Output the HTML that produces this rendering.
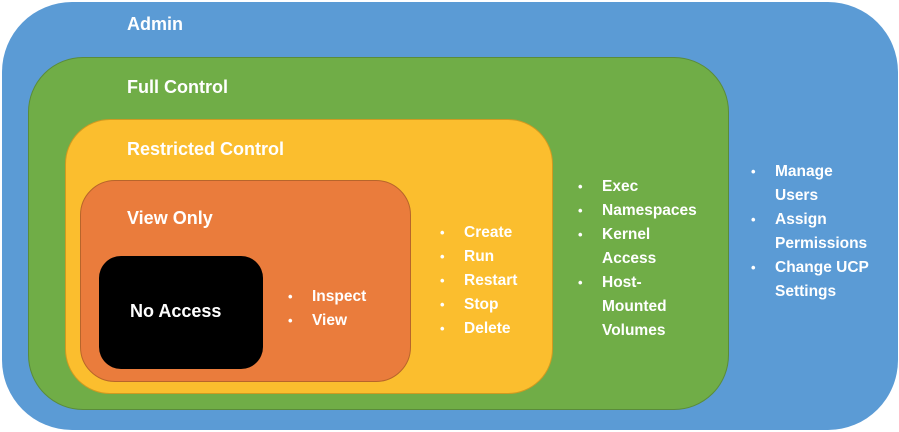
<!DOCTYPE html>
<html><head><style>
body{margin:0;width:899px;height:432px;background:#fff;position:relative;overflow:hidden;font-family:"Liberation Sans",sans-serif;font-weight:bold;color:#fff}
.b{position:absolute;box-sizing:border-box}
.t{position:absolute;font-size:18px;white-space:nowrap;line-height:20px}
ul{position:absolute;margin:0;padding:0;list-style:none;font-size:15.5px;line-height:24px}
li{position:relative;padding-left:24px;white-space:nowrap}
li:before{content:"•";position:absolute;left:0;font-size:13px}
</style></head><body>
<div class="b" style="left:2px;top:2px;width:896px;height:428px;background:#5b9bd5;border-radius:70px"></div>
<div class="b" style="left:28px;top:57px;width:701px;height:353px;background:#70ad47;border:1px solid #5a8c3a;border-radius:55px"></div>
<div class="b" style="left:65px;top:119px;width:488px;height:275px;background:#fbbe2e;border:1px solid #d09a20;border-radius:45px"></div>
<div class="b" style="left:80px;top:180px;width:331px;height:202px;background:#ea7c3c;border:1px solid #b8652a;border-radius:35px"></div>
<div class="b" style="left:99px;top:256px;width:164px;height:113px;background:#000;border-radius:22px"></div>
<div class="t" style="left:127px;top:14px">Admin</div>
<div class="t" style="left:127px;top:77px">Full Control</div>
<div class="t" style="left:127px;top:139px">Restricted Control</div>
<div class="t" style="left:127px;top:208px">View Only</div>
<div class="t" style="left:130px;top:301px">No Access</div>
<ul style="left:288px;top:285px"><li>Inspect</li><li>View</li></ul>
<ul style="left:440px;top:221px"><li>Create</li><li>Run</li><li>Restart</li><li>Stop</li><li>Delete</li></ul>
<ul style="left:578px;top:175px"><li>Exec</li><li>Namespaces</li><li>Kernel<br>Access</li><li>Host-<br>Mounted<br>Volumes</li></ul>
<ul style="left:751px;top:160px;width:140px"><li>Manage<br>Users</li><li>Assign<br>Permissions</li><li>Change UCP<br>Settings</li></ul>
</body></html>
